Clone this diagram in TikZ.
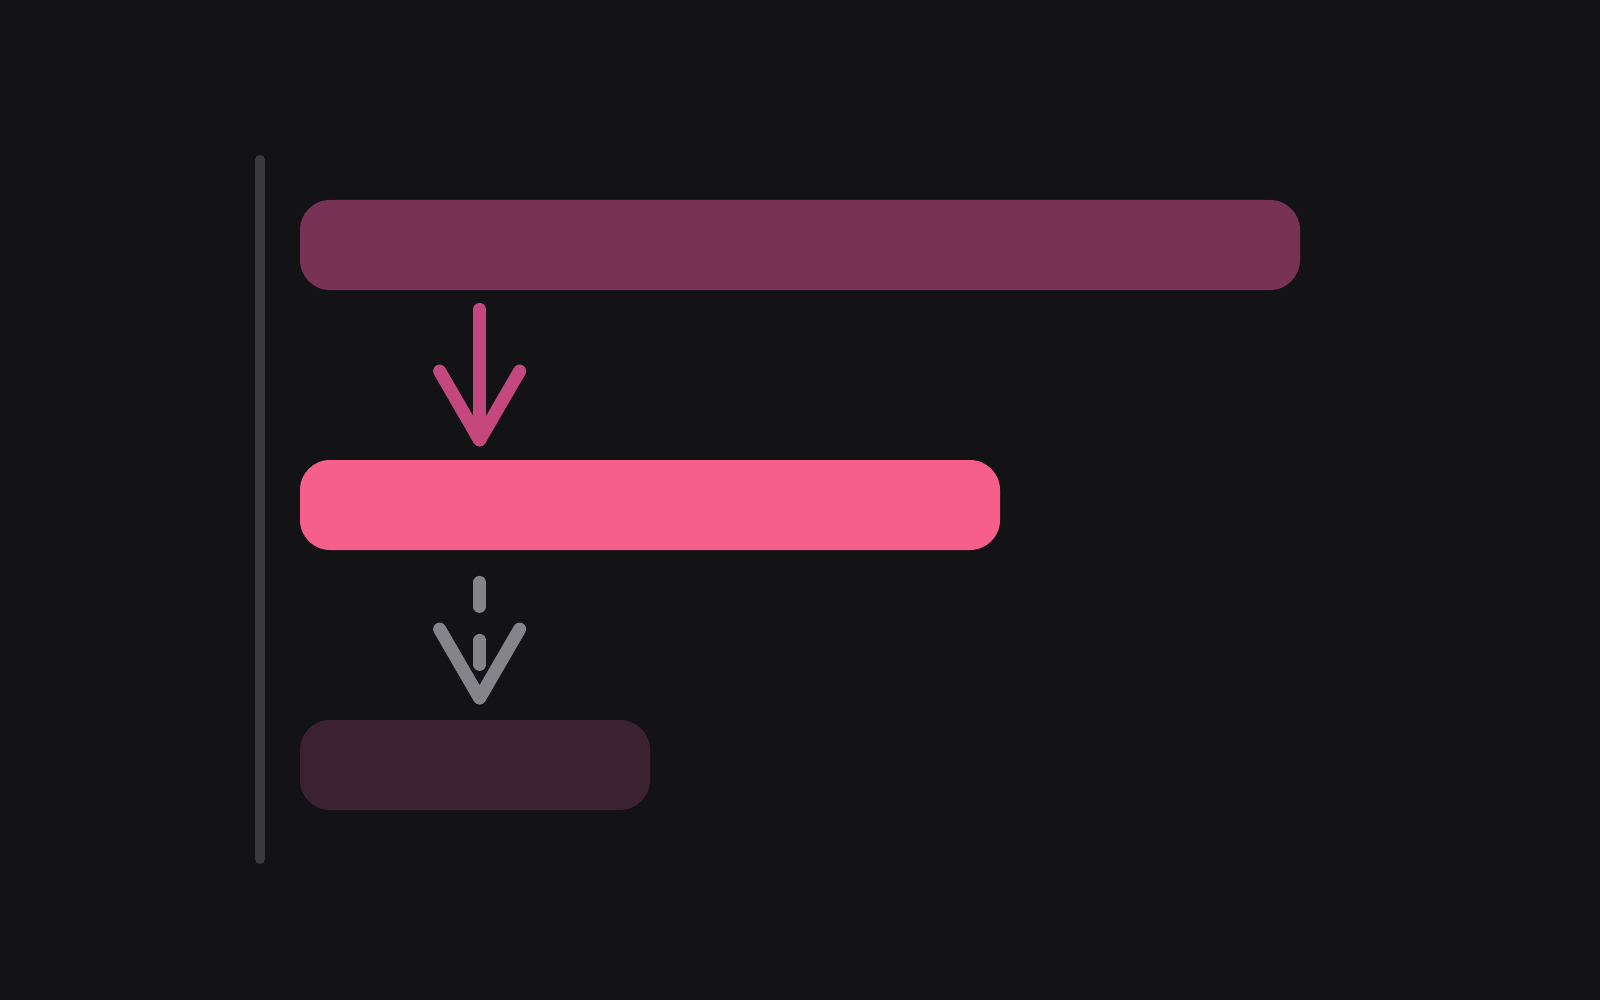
\documentclass[tikz,border=0pt]{standalone}
\definecolor{BackColor}{RGB}{19,19,22}
\definecolor{RuleColor}{RGB}{58,57,64}
\definecolor{TopColor}{RGB}{120,50,86}
\definecolor{MidColor}{RGB}{246,95,138}
\definecolor{LowColor}{RGB}{60,33,48}
\definecolor{ArrowColor}{RGB}{196,72,126}
\definecolor{GhostColor}{RGB}{133,132,139}
\usepackage{tikz}
\usetikzlibrary{positioning, arrows.meta, calc}
\tikzstyle{bar} = [rectangle, rounded corners=15pt, inner sep=0pt, minimum height=45pt]
\tikzstyle{flow} = [line width=6.5pt, line cap=round, -{Straight Barb[length=34.5pt, width=40pt, round]}]

\begin{document}
\begin{tikzpicture}[x=0.5pt, y=-0.5pt]
      % Canvas
      \fill[BackColor] (0,0) rectangle (1600,1000);
      \useasboundingbox (0,0) rectangle (1600,1000);

      % Side rule
      \draw[RuleColor, line width=5pt, line cap=round] (260,160) -- (260,859);

      % Bars
      \node[bar, fill=TopColor, minimum width=500pt] (top) at (800,245) {};
      \node[bar, fill=MidColor, minimum width=350pt] (mid) at (650,505) {};
      \node[bar, fill=LowColor, minimum width=175pt] (low) at (475,765) {};

      % Connections
      \draw[flow, ArrowColor] ($(top.south west)+(180,19)$) -- ($(mid.north west)+(180,-13)$);
      \draw[flow, GhostColor, dash pattern=on 12pt off 17pt] ($(mid.south west)+(180,32)$) -- ($(low.north west)+(180,-15)$);
    \end{tikzpicture}
\end{document}
